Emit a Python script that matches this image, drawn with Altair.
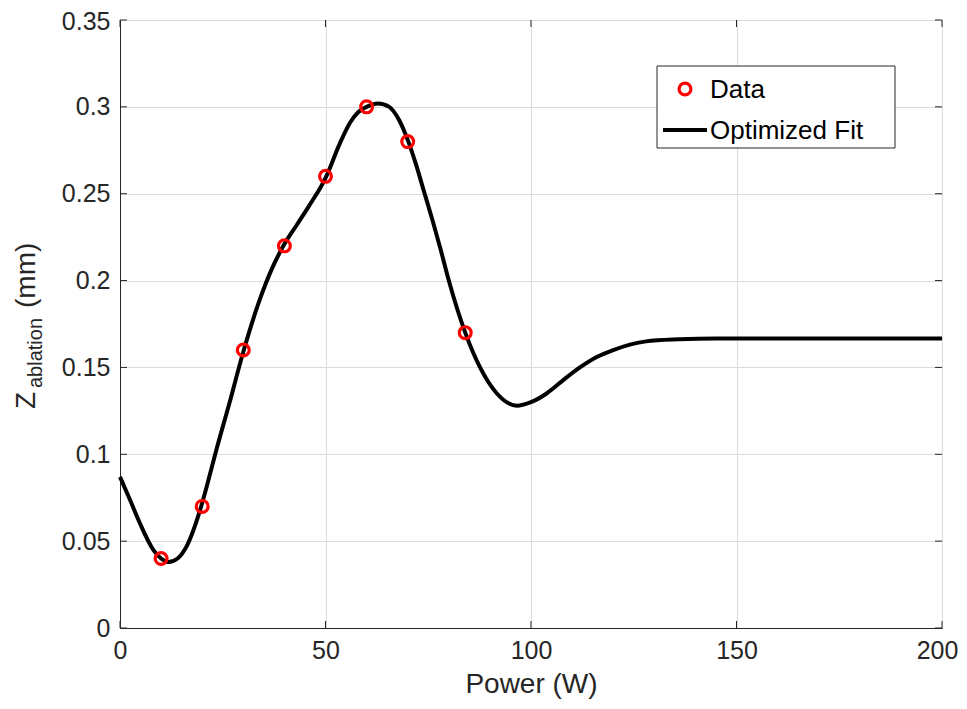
import altair as alt
import pandas as pd

# Measured data
data_power = [10, 20, 30, 40, 50, 60, 70, 84]
data_z = [0.04, 0.07, 0.16, 0.22, 0.26, 0.30, 0.28, 0.17]

# Optimized fit curve
fit_power = [0, 2.4, 4.9, 8.1, 10, 11.8, 14, 16.2, 19.5, 21.5, 23.5, 26.8, 30, 34, 37, 40, 43, 46, 50,
             53.5, 56, 58, 60, 62.8, 65.5, 68, 70, 72, 74, 76, 78, 80, 84, 87.6, 91.7, 96.5, 100,
             103.8, 108, 111.9, 116, 120, 128, 136, 145, 200]
fit_z = [0.087, 0.074, 0.060, 0.045, 0.040, 0.038, 0.040, 0.047, 0.068, 0.085, 0.103, 0.131, 0.159, 0.189,
         0.207, 0.221, 0.232, 0.243, 0.259, 0.279, 0.291, 0.297, 0.300, 0.302, 0.300, 0.292, 0.281, 0.267,
         0.251, 0.235, 0.218, 0.200, 0.170, 0.150, 0.135, 0.128, 0.130, 0.135, 0.143, 0.150, 0.156, 0.160,
         0.165, 0.1662, 0.1667, 0.1667]

x_ticks = [0, 50, 100, 150, 200]
y_ticks = [0, 0.05, 0.1, 0.15, 0.2, 0.25, 0.3, 0.35]

W, H = 822, 608
FONT = "Liberation Sans"
TXT = "#262626"

df_data = pd.DataFrame({"Power": data_power, "Z": data_z})
df_fit = pd.DataFrame({"Power": fit_power, "Z": fit_z})
df_xt = pd.DataFrame({"t": x_ticks})
df_yt = pd.DataFrame({"t": y_ticks})

xscale = alt.Scale(domain=[0, 200], nice=False, zero=False)
yscale = alt.Scale(domain=[0, 0.35], nice=False, zero=False)

xaxis = alt.Axis(values=x_ticks, title="Power (W)", ticks=False, grid=True, gridColor="#dcdcdc",
                 labelFont=FONT, labelFontSize=25, labelColor=TXT, labelPadding=10,
                 labelOffset={"condition": {"test": "datum.value == 200", "value": -5}, "value": 0},
                 titleFont=FONT, titleFontSize=28, titleFontWeight="normal", titleColor=TXT, titlePadding=7,
                 domainColor=TXT, labelFlush=False)
yaxis = alt.Axis(values=y_ticks, title=None, ticks=False, grid=True, gridColor="#dcdcdc",
                 labelFont=FONT, labelFontSize=25, labelColor=TXT, labelPadding=10,
                 labelOffset={"condition": {"test": "datum.value == 0.35", "value": 1.5}, "value": 0},
                 domainColor=TXT, labelFlush=False,
                 labelExpr="datum.value == 0 ? '0' : format(datum.value, '.2~f')")

fit = alt.Chart(df_fit).mark_line(color="black", strokeWidth=4, interpolate="monotone").encode(
    x=alt.X("Power:Q", scale=xscale, axis=xaxis),
    y=alt.Y("Z:Q", scale=yscale, axis=yaxis),
)

pts = alt.Chart(df_data).mark_point(shape="circle", filled=False, color="#ff0000", opacity=1,
                                    size=140, strokeWidth=3.2).encode(
    x=alt.X("Power:Q", scale=xscale),
    y=alt.Y("Z:Q", scale=yscale),
)

# inward ticks (MATLAB style)
xt_bottom = alt.Chart(df_xt).mark_rule(color=TXT, strokeWidth=1).encode(
    x=alt.X("t:Q", scale=xscale), y=alt.value(H), y2=alt.value(H - 7))
xt_top = alt.Chart(df_xt).mark_rule(color=TXT, strokeWidth=1).encode(
    x=alt.X("t:Q", scale=xscale), y=alt.value(0), y2=alt.value(7))
yt_left = alt.Chart(df_yt).mark_rule(color=TXT, strokeWidth=1).encode(
    y=alt.Y("t:Q", scale=yscale), x=alt.value(0), x2=alt.value(7))
yt_right = alt.Chart(df_yt).mark_rule(color=TXT, strokeWidth=1).encode(
    y=alt.Y("t:Q", scale=yscale), x=alt.value(W), x2=alt.value(W - 7))

# Y-axis title with subscript
ytitle_z = alt.Chart(pd.DataFrame({"s": ["Z"]})).mark_text(
    angle=270, align="left", baseline="alphabetic", font=FONT, fontSize=28, color=TXT).encode(
    text="s:N", x=alt.value(-85), y=alt.value(389))
ytitle_sub = alt.Chart(pd.DataFrame({"s": ["ablation"]})).mark_text(
    angle=270, align="left", baseline="alphabetic", font=FONT, fontSize=20, color=TXT).encode(
    text="s:N", x=alt.value(-78), y=alt.value(368))
ytitle_mm = alt.Chart(pd.DataFrame({"s": ["(mm)"]})).mark_text(
    angle=270, align="left", baseline="alphabetic", font=FONT, fontSize=28, color=TXT).encode(
    text="s:N", x=alt.value(-85), y=alt.value(288))

# Legend box
leg_box = alt.Chart(pd.DataFrame({"a": [0]})).mark_rect(fill="white", stroke=TXT, strokeWidth=1).encode(
    x=alt.value(537), x2=alt.value(775), y=alt.value(46), y2=alt.value(128))
leg_pt = alt.Chart(pd.DataFrame({"a": [0]})).mark_point(shape="circle", filled=False, color="#ff0000",
                                                        opacity=1, size=140, strokeWidth=3.2).encode(
    x=alt.value(565), y=alt.value(69))
leg_line = alt.Chart(pd.DataFrame({"a": [0]})).mark_rule(color="black", strokeWidth=4).encode(
    x=alt.value(543), x2=alt.value(587), y=alt.value(110))
leg_txt = alt.Chart(pd.DataFrame({"s": ["Data", "Optimized Fit"], "yy": [70, 111]})).mark_text(
    align="left", baseline="middle", font=FONT, fontSize=26, color="black").encode(
    text="s:N", x=alt.value(590), y=alt.Y("yy:Q", scale=None))

chart = alt.layer(
    fit, pts, xt_bottom, xt_top, yt_left, yt_right,
    ytitle_z, ytitle_sub, ytitle_mm,
    leg_box, leg_pt, leg_line, leg_txt
).properties(
    width=W, height=H,
    autosize=alt.AutoSizeParams(type="none"),
    padding={"left": 112, "top": 12, "right": 17, "bottom": 73},
    background="white",
).configure_view(stroke=TXT, strokeWidth=1)

chart.save("out.html", embed_options={"renderer": "svg", "actions": False})
